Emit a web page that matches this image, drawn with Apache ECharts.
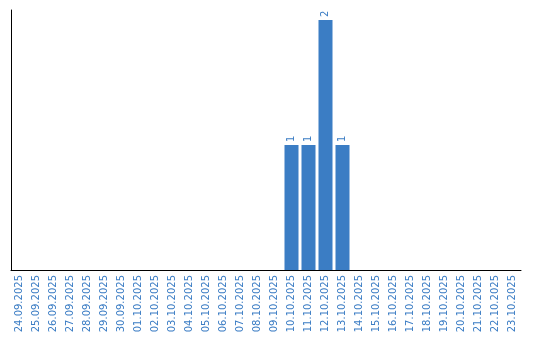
<!DOCTYPE html>
<html><head><meta charset="utf-8">
<script src="https://cdn.jsdelivr.net/npm/echarts@6/dist/echarts.min.js"></script>
<style>html,body{margin:0;padding:0;background:#fff}#c{width:540px;height:340px}</style>
</head><body><div id="c"></div>
<script>
const categories = ["24.09.2025","25.09.2025","26.09.2025","27.09.2025","28.09.2025","29.09.2025","30.09.2025","01.10.2025","02.10.2025","03.10.2025","04.10.2025","05.10.2025","06.10.2025","07.10.2025","08.10.2025","09.10.2025","10.10.2025","11.10.2025","12.10.2025","13.10.2025","14.10.2025","15.10.2025","16.10.2025","17.10.2025","18.10.2025","19.10.2025","20.10.2025","21.10.2025","22.10.2025","23.10.2025"];
const counts = [0,0,0,0,0,0,0,0,0,0,0,0,0,0,0,0,1,1,2,1,0,0,0,0,0,0,0,0,0,0];
const chart = echarts.init(document.getElementById('c'), null, {renderer:'canvas'});
chart.setOption({
  animation:false,
  grid:{left:11, top:10, width:510, height:260, containLabel:false},
  xAxis:{type:'category', data:categories, boundaryGap:true,
    axisLine:{lineStyle:{color:'#000', width:1}}, axisTick:{show:false},
    axisLabel:{rotate:90, interval:0, color:'#3a7cc4', fontFamily:'DejaVu Sans', fontSize:10, margin:5}},
  yAxis:{type:'value', min:0, max:2.08, axisLine:{show:true, lineStyle:{color:'#000', width:1}},
    axisTick:{show:false}, axisLabel:{show:false}, splitLine:{show:false}},
  series:[{type:'bar', data:counts.map(v=>v===0?null:v), barWidth:14,
    itemStyle:{color:'#3b7dc4'},
    label:{show:true, position:'top', rotate:90, align:'left', verticalAlign:'middle', distance:3,
      color:'#3a7cc4', fontFamily:'DejaVu Sans', fontSize:10}}]
});
</script></body></html>
